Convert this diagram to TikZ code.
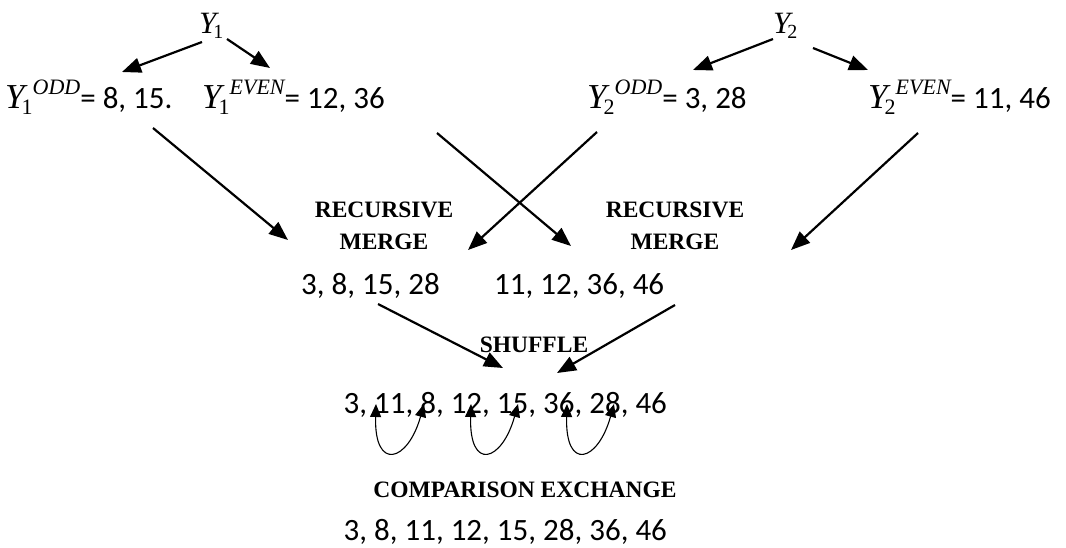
\documentclass[tikz,border=0pt]{standalone}
\usepackage{fontspec}
\setmainfont{Carlito}
\newfontfamily\tnr{Liberation Serif}
\usetikzlibrary{arrows.meta}
\newcommand\yLab[2]{{\tnr\itshape\fontsize{35}{35}\selectfont Y}\kern-3pt\rlap{\raisebox{-6pt}{\tnr\fontsize{22}{22}\selectfont #1}}\kern11pt\raisebox{14pt}{\tnr\itshape\fontsize{22}{22}\selectfont #2}}
\newcommand\yTop[1]{{\tnr\itshape\fontsize{31}{31}\selectfont Y}\kern-3pt\raisebox{-5pt}{\tnr\fontsize{20}{20}\selectfont #1}}
\begin{document}
\begin{tikzpicture}[x=1pt,y=-1pt,
  lbl/.style={font=\fontsize{31}{36}\selectfont, inner sep=0pt},
  boldlbl/.style={font=\tnr\bfseries\fontsize{23.5}{32}\selectfont, align=center, inner sep=0pt},
  arr/.style={line width=2.2pt, -{Triangle[length=19pt,width=15pt]}},
  carr/.style={line width=1.1pt, {Triangle[length=13pt,width=11pt]}-{Triangle[length=13pt,width=11pt]}}]
\useasboundingbox (0,0) rectangle (1066,547);

% top
\node[lbl, anchor=base west] (y1) at (199,33) {\yTop{1}};
\node[lbl, anchor=base west] (y2) at (773,33) {\yTop{2}};
\node[lbl, anchor=base west] (y1o) at (5,108) {\yLab{1}{ODD}= 8, 15.};
\node[lbl, anchor=base west] (y1e) at (202,108) {\yLab{1}{EVEN}= 12, 36};
\node[lbl, anchor=base west] (y2o) at (587,108) {\yLab{2}{ODD}= 3, 28};
\node[lbl, anchor=base west] (y2e) at (868,108) {\yLab{2}{EVEN}= 11, 46};

% merge
\node[boldlbl] (rm1) at (384,226) {RECURSIVE\\MERGE};
\node[boldlbl] (rm2) at (675,226) {RECURSIVE\\MERGE};
\node[lbl, anchor=base west] (m1) at (301,294) {3, 8, 15, 28};
\node[lbl, anchor=base west] (m2) at (494,294) {11, 12, 36, 46};

% shuffle
\node[boldlbl] (shuf) at (534,345) {SHUFFLE};
\node[lbl, anchor=base east] (sh) at (667,413) {3, 11, 8, 12, 15, 36, 28, 46};
\node[boldlbl] (ce) at (525,490) {COMPARISON EXCHANGE};
\node[lbl, anchor=base east] (res) at (667,540) {3, 8, 11, 12, 15, 28, 36, 46};

% arrow end points
\coordinate (a1s) at (202,42);  \coordinate (a1e) at (122,72);
\coordinate (a2s) at (227,39);  \coordinate (a2e) at (270,68);
\coordinate (a3s) at (773,39);  \coordinate (a3e) at (693,70);
\coordinate (a4s) at (813,48);  \coordinate (a4e) at (868,70);
\coordinate (b1s) at (153,128); \coordinate (b1e) at (288,240);
\coordinate (b2s) at (437,133); \coordinate (b2e) at (571,246);
\coordinate (b3s) at (597,132); \coordinate (b3e) at (468,250);
\coordinate (b4s) at (918,133); \coordinate (b4e) at (791,250);
\coordinate (c1s) at (378,304); \coordinate (c1e) at (503,368);
\coordinate (c2s) at (675,305); \coordinate (c2e) at (557,373);

\draw[arr] (a1s) -- (a1e);
\draw[arr] (a2s) -- (a2e);
\draw[arr] (a3s) -- (a3e);
\draw[arr] (a4s) -- (a4e);
\draw[arr] (b1s) -- (b1e);
\draw[arr] (b2s) -- (b2e);
\draw[arr] (b3s) -- (b3e);
\draw[arr] (b4s) -- (b4e);
\draw[arr] (c1s) -- (c1e);
\draw[arr] (c2s) -- (c2e);

% comparison arcs
\coordinate (p1) at (376,404); \coordinate (q1) at (424,404);
\coordinate (p2) at (471,404); \coordinate (q2) at (518,404);
\coordinate (p3) at (567,404); \coordinate (q3) at (614,404);
\draw[carr] (p1) .. controls (374,472) and (408,462) .. (q1);
\draw[carr] (p2) .. controls (469,472) and (502,462) .. (q2);
\draw[carr] (p3) .. controls (565,472) and (598,462) .. (q3);
\end{tikzpicture}
\end{document}
